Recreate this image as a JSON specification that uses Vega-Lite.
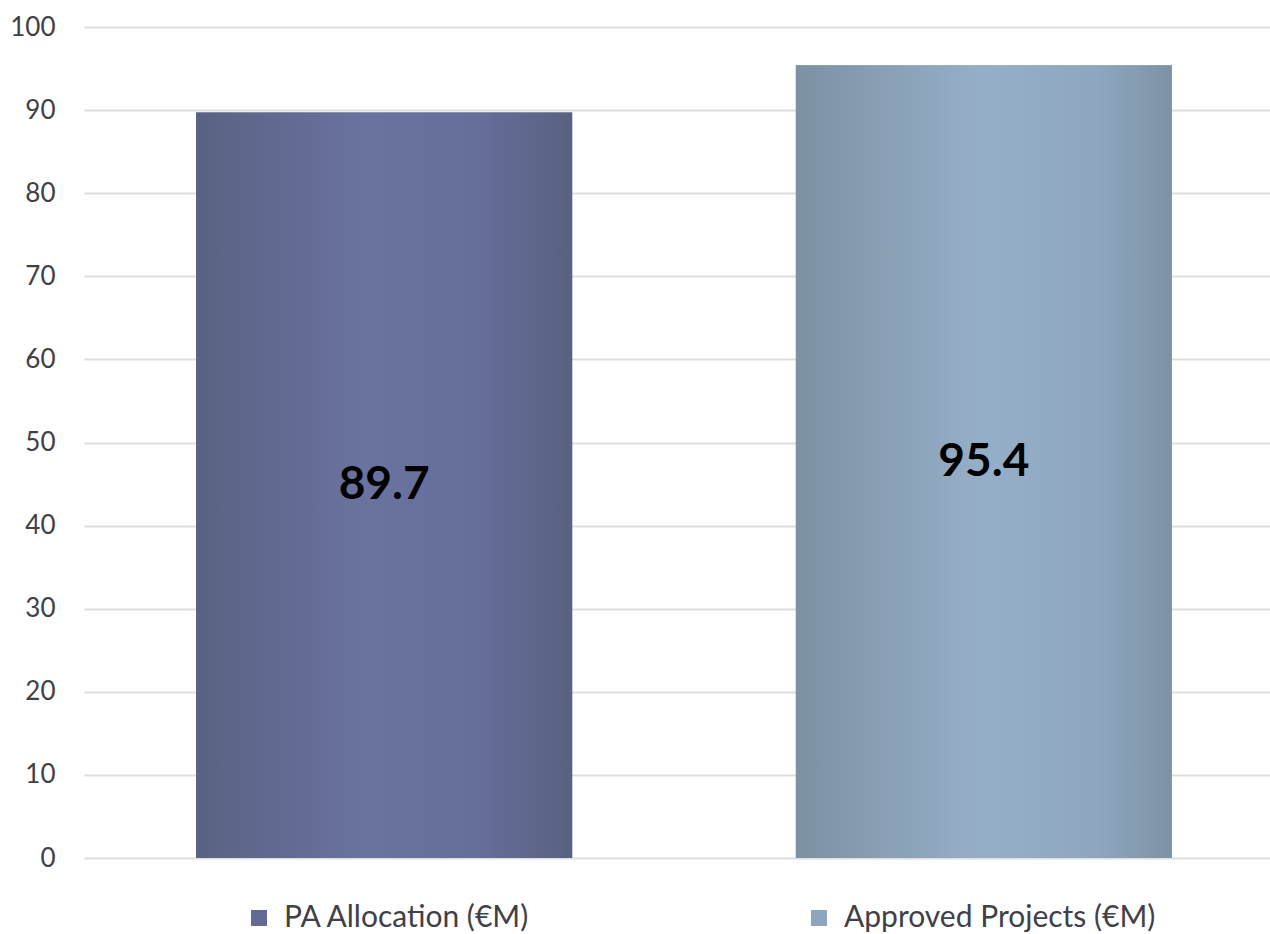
{
  "$schema": "https://vega.github.io/schema/vega-lite/v6.json",
  "autosize": "none",
  "width": 1186,
  "height": 831,
  "padding": {"left": 84, "top": 27, "right": 0, "bottom": 76},
  "background": "white",
  "config": {
    "view": {"stroke": null},
    "font": "Lato"
  },
  "data": {
    "values": [
      {"series": "PA Allocation (€M)", "value": 89.7},
      {"series": "Approved Projects (€M)", "value": 95.4}
    ]
  },
  "encoding": {
    "x": {
      "field": "series",
      "type": "nominal",
      "sort": null,
      "axis": null,
      "scale": {"paddingInner": 0.373, "paddingOuter": 0.187, "range": [0, 1200]}
    },
    "y": {
      "field": "value",
      "type": "quantitative",
      "scale": {"domain": [0, 100], "nice": false},
      "axis": {
        "title": null,
        "values": [0, 10, 20, 30, 40, 50, 60, 70, 80, 90, 100],
        "domain": false,
        "ticks": false,
        "labelFont": "Lato",
        "labelFontSize": 26,
        "labelColor": "#404048",
        "labelPadding": 29,
        "gridColor": "#dedede",
        "gridWidth": 2
      }
    }
  },
  "layer": [
    {
      "mark": {"type": "bar"},
      "encoding": {
        "color": {
          "field": "series",
          "type": "nominal",
          "scale": {
            "domain": ["PA Allocation (€M)", "Approved Projects (€M)"],
            "range": ["#626b96", "#8ea6bd"]
          },
          "legend": {
            "title": null,
            "orient": "none",
            "legendX": 160,
            "legendY": 876,
            "direction": "horizontal",
            "symbolType": "square",
            "symbolSize": 256,
            "symbolStrokeWidth": 0,
            "labelFont": "Lato",
            "labelFontSize": 30,
            "labelColor": "#404048",
            "labelOffset": 10,
            "labelLimit": 0,
            "columnPadding": 273
          }
        }
      }
    },
    {
      "transform": [{"filter": "datum.series === 'PA Allocation (€M)'"}],
      "mark": {
        "type": "bar",
        "fill": {
          "gradient": "linear",
          "x1": 0, "y1": 0, "x2": 1, "y2": 0,
          "stops": [
            {"offset": 0, "color": "#5a6283"},
            {"offset": 0.45, "color": "#6a72a0"},
            {"offset": 0.75, "color": "#666e9a"},
            {"offset": 1, "color": "#596182"}
          ]
        }
      }
    },
    {
      "transform": [{"filter": "datum.series === 'Approved Projects (€M)'"}],
      "mark": {
        "type": "bar",
        "fill": {
          "gradient": "linear",
          "x1": 0, "y1": 0, "x2": 1, "y2": 0,
          "stops": [
            {"offset": 0, "color": "#7c91a3"},
            {"offset": 0.5, "color": "#96afc8"},
            {"offset": 0.8, "color": "#8ea7bf"},
            {"offset": 1, "color": "#7d92a5"}
          ]
        }
      }
    },
    {
      "transform": [{"calculate": "datum.value / 2", "as": "mid"}],
      "mark": {
        "type": "text",
        "font": "Lato",
        "fontSize": 46,
        "fontWeight": "bold",
        "color": "black",
        "baseline": "middle",
        "align": "center"
      },
      "encoding": {
        "y": {"field": "mid", "type": "quantitative"},
        "text": {"field": "value", "type": "quantitative", "format": ".1f"}
      }
    }
  ]
}
